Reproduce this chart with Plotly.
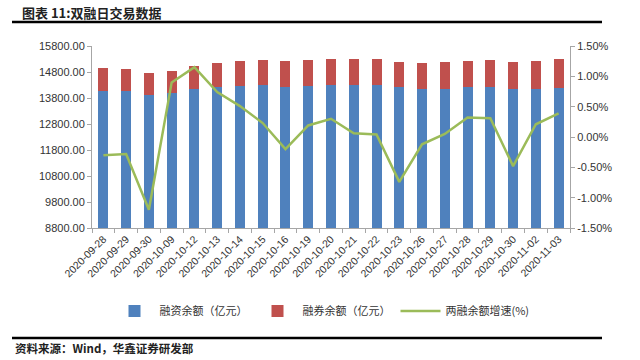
import plotly.graph_objects as go

dates = ["2020-09-28", "2020-09-29", "2020-09-30", "2020-10-09", "2020-10-12", "2020-10-13",
         "2020-10-14", "2020-10-15", "2020-10-16", "2020-10-19", "2020-10-20", "2020-10-21",
         "2020-10-22", "2020-10-23", "2020-10-26", "2020-10-27", "2020-10-28", "2020-10-29",
         "2020-10-30", "2020-11-02", "2020-11-03"]
financing = [14080, 14058, 13904, 14004, 14135, 14235, 14273, 14300, 14235, 14273, 14288, 14288,
             14288, 14211, 14146, 14146, 14211, 14235, 14146, 14160, 14197]
total = [14942, 14904, 14762, 14850, 15042, 15146, 15223, 15262, 15223, 15273, 15300, 15295,
         15288, 15197, 15134, 15172, 15223, 15262, 15172, 15223, 15288]
lending = [t - f for t, f in zip(total, financing)]
growth = [-0.30, -0.28, -1.20, 0.90, 1.15, 0.74, 0.51, 0.23, -0.20, 0.19, 0.30, 0.06,
          0.04, -0.74, -0.12, 0.05, 0.32, 0.31, -0.48, 0.21, 0.39]
growth_frac = [g / 100 for g in growth]

left_ticks = [8800 + 1000 * i for i in range(8)]
right_ticks = [-0.015 + 0.005 * i for i in range(7)]

L, R, T, B = 92, 570, 46, 228
W, H = 640, 360
def px(x):
    return (x - L) / (R - L)
def py(y):
    return (B - y) / (B - T)

fig = go.Figure()
fig.add_trace(go.Bar(x=dates, y=financing, name="融资余额（亿元）", marker_color="#4F81BD",
                     marker_line_width=0))
fig.add_trace(go.Bar(x=dates, y=lending, name="融券余额（亿元）", marker_color="#C0504D",
                     marker_line_width=0))
fig.add_trace(go.Scatter(x=dates, y=growth_frac, name="两融余额增速(%)", mode="lines",
                         line=dict(color="#9BBB59", width=2.5), yaxis="y2"))

axis_font = dict(family="Liberation Sans, Arial", size=11, color="#333333")
fig.update_layout(
    width=W, height=H,
    margin=dict(l=L, r=W - R, t=T, b=H - B, autoexpand=False),
    paper_bgcolor="white", plot_bgcolor="white",
    barmode="stack", bargap=0.56,
    showlegend=True,
    legend=dict(orientation="h", x=px(322), y=py(311), xanchor="center", yanchor="middle",
                font=dict(family="Noto Sans CJK SC", size=11, color="#333333"),
                traceorder="normal", itemwidth=40),
    xaxis=dict(type="category", tickangle=-45, automargin=False,
               tickfont=dict(family="Liberation Sans, Arial", size=10.5, color="#333333"),
               showline=True, linecolor="#a6a6a6", ticks="outside", tickson="boundaries",
               ticklen=4, tickcolor="#a6a6a6", showgrid=False),
    yaxis=dict(range=[8800, 15800], tickvals=left_ticks, ticktext=[f"{v:.2f}" for v in left_ticks],
               tickfont=axis_font, showline=True, linecolor="#a6a6a6", ticks="outside",
               automargin=False,
               ticklen=4, tickcolor="#a6a6a6", showgrid=False, zeroline=False),
    yaxis2=dict(range=[-0.015, 0.015], overlaying="y", side="right", tickvals=right_ticks,
                ticktext=[f"{v*100:.2f}%" for v in right_ticks], tickfont=axis_font,
                automargin=False,
                showline=True, linecolor="#a6a6a6", ticks="outside", ticklen=4,
                tickcolor="#a6a6a6", showgrid=False, zeroline=False),
    shapes=[
        dict(type="line", xref="paper", yref="paper", x0=px(12), x1=px(602), y0=py(22), y1=py(22),
             line=dict(color="black", width=2.5)),
        dict(type="line", xref="paper", yref="paper", x0=px(12), x1=px(602), y0=py(338), y1=py(338),
             line=dict(color="black", width=2.5)),
    ],
    annotations=[
        dict(text="<b>图表 11:双融日交易数据</b>", xref="paper", yref="paper", x=px(20), y=py(12),
             xanchor="left", yanchor="middle", showarrow=False,
             font=dict(family="Noto Sans CJK SC", size=13, color="#222222")),
        dict(text="<b>资料来源：Wind，华鑫证券研发部</b>", xref="paper", yref="paper", x=px(13), y=py(348),
             xanchor="left", yanchor="middle", showarrow=False,
             font=dict(family="Noto Sans CJK SC", size=11.5, color="#222222")),
    ],
)

fig.write_html("out.html", config={"displayModeBar": False},
               post_script="document.body.style.margin='0';document.body.style.overflow='hidden';")
